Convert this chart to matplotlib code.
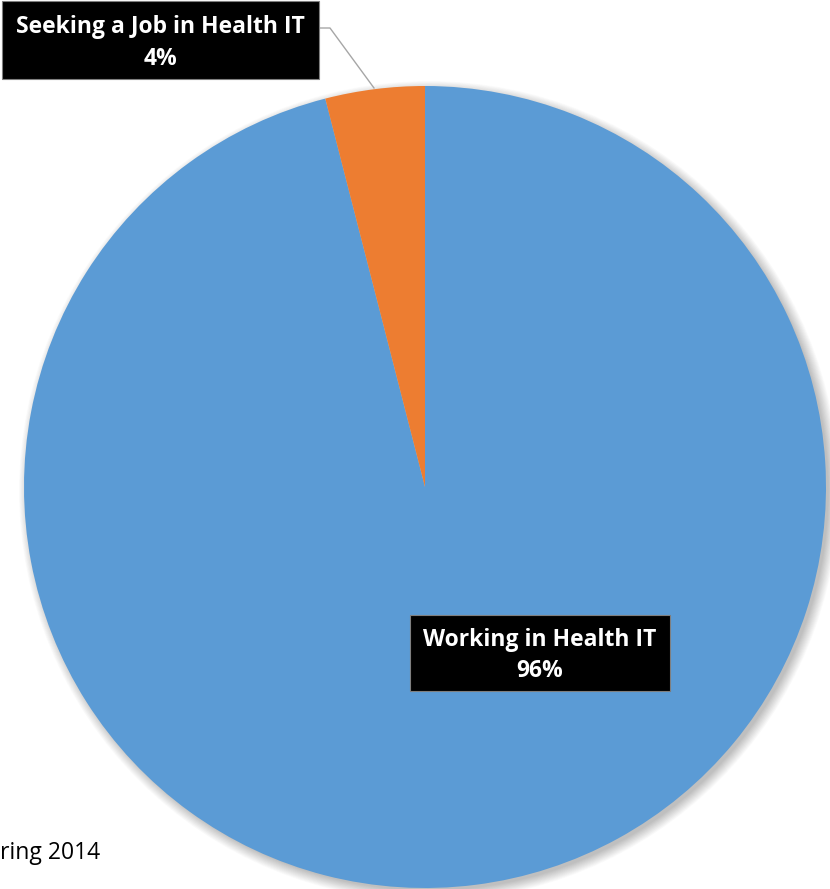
import matplotlib
matplotlib.use("Agg")
import matplotlib.pyplot as plt
from matplotlib.patches import Circle, Rectangle

# data
labels = ["Working in Health IT", "Seeking a Job in Health IT"]
shares = [96, 4]
colors = ["#5B9BD5", "#ED7D31"]
footer = "ring 2014"

W, H = 830, 889
fig = plt.figure(figsize=(W / 100, H / 100), dpi=100)
ax = fig.add_axes([0, 0, 1, 1])

cx, cy, r = 425, H - 487, 401

# soft shadow bottom-right
for i in range(16):
    ax.add_patch(Circle((cx + 4, cy - 4), r + 9 - i * 0.7, color="black",
                        alpha=0.016, lw=0, zorder=0))

ax.pie(shares, colors=colors, startangle=90, counterclock=False,
       radius=r, center=(cx, cy), frame=True, wedgeprops=dict(linewidth=0))
ax.set_xlim(0, W)
ax.set_ylim(0, H)
ax.set_aspect("equal")
ax.axis("off")

font = "Open Sans"

def label_box(x0, y0, x1, y1, name, pct):
    # y values in image pixels (top-down)
    ax.add_patch(Rectangle((x0, H - y1), x1 - x0, y1 - y0, fc="black",
                           ec="#7f7f7f", lw=0.8, zorder=5))
    xm = (x0 + x1) / 2
    h = y1 - y0
    ax.text(xm, H - (y0 + h * 0.33), name, ha="center", va="center",
            color="white", fontsize=16.5, fontweight="bold", family=font, zorder=6)
    ax.text(xm, H - (y0 + h * 0.74), f"{pct}%", ha="center", va="center",
            color="white", fontsize=16.5, fontweight="bold", family=font, zorder=6)

label_box(410, 615, 670, 691, labels[0], shares[0])

ax.plot([319, 330, 374], [H - 28, H - 28, H - 88], color="#a6a6a6", lw=1, zorder=4)
label_box(2, 1, 319, 79, labels[1], shares[1])

ax.text(0, H - 853, footer, ha="left", va="center", fontsize=16.5,
        family=font, color="black")

fig.savefig("out.png", dpi=100)
